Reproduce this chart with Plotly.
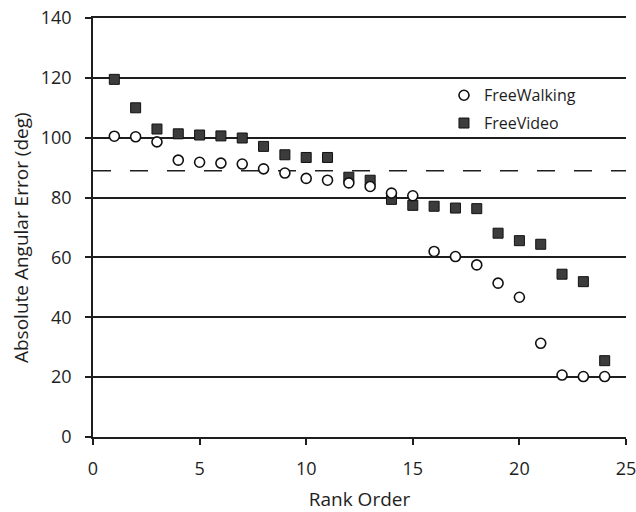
import plotly.graph_objects as go

rank = list(range(1, 25))
free_walking = [100.5, 100.3, 98.6, 92.5, 91.8, 91.5, 91.2, 89.6, 88.2, 86.4,
                85.8, 84.9, 83.7, 81.5, 80.6, 62.0, 60.3, 57.5, 51.4, 46.7,
                31.3, 20.7, 20.2, 20.2]
free_video = [119.5, 110.0, 102.9, 101.3, 100.9, 100.6, 99.9, 97.1, 94.3, 93.4,
              93.4, 86.8, 85.8, 79.4, 77.4, 77.1, 76.5, 76.3, 68.1, 65.6,
              64.4, 54.4, 51.9, 25.5]
reference_level = 89
x_ticks = [0, 5, 10, 15, 20, 25]
y_ticks = [0, 20, 40, 60, 80, 100, 120, 140]
x_title = "Rank Order"
y_title = "Absolute Angular Error (deg)"

FONT = "Open Sans"
INK = "#1e1e1e"

fig = go.Figure()
fig.add_trace(go.Scatter(
    x=rank, y=free_video, mode="markers", name="FreeVideo", legendrank=2,
    legendgroup="b",
    marker=dict(symbol="square", size=10, color="#3c3c3c",
                line=dict(color="#111111", width=1)),
))
fig.add_trace(go.Scatter(
    x=rank, y=free_walking, mode="markers", name="FreeWalking", legendrank=1,
    legendgroup="a",
    marker=dict(symbol="circle", size=10, color="white",
                line=dict(color="#111111", width=1.6)),
))

fig.add_shape(type="line", xref="paper", yref="y", x0=0, x1=1,
              y0=reference_level, y1=reference_level,
              line=dict(color=INK, width=1.5, dash="18px,19px"), layer="below")

# y-axis title as a rotated annotation so it can sit closer to the edge
fig.add_annotation(text=y_title, textangle=-90, xref="paper", yref="paper",
                   x=-0.135, y=0.475, xanchor="center", yanchor="middle",
                   showarrow=False, font=dict(size=19, family=FONT, color=INK))

fig.update_layout(
    width=636, height=512,
    margin=dict(l=93, r=10, t=18, b=75),
    paper_bgcolor="white", plot_bgcolor="white",
    font=dict(family=FONT, size=17, color=INK),
    showlegend=True,
    legend=dict(x=0.6585, y=0.856, xanchor="left", yanchor="top",
                bgcolor="rgba(0,0,0,0)", font=dict(size=16, family=FONT, color=INK),
                itemwidth=30, traceorder="grouped", tracegroupgap=4),
    xaxis=dict(range=[0, 25], tickvals=x_ticks, showgrid=False, zeroline=False,
               showline=True, linecolor=INK, linewidth=1.5, mirror=True,
               ticks="outside", ticklen=6, tickwidth=1.5, tickcolor=INK,
               ticklabelstandoff=9, tickfont=dict(size=18), automargin=False,
               ticklabeloverflow="allow",
               title=dict(text=x_title, font=dict(size=19), standoff=19)),
    yaxis=dict(range=[0, 140], tickvals=y_ticks, showgrid=True,
               gridcolor=INK, gridwidth=1.5, zeroline=False,
               showline=True, linecolor=INK, linewidth=1.5,
               ticks="outside", ticklen=6, tickwidth=1.5, tickcolor=INK,
               ticklabelstandoff=10, tickfont=dict(size=18), automargin=False,
               ticklabeloverflow="allow"),
)

fig.write_html(
    "out.html",
    config={"displayModeBar": False},
    post_script="document.body.style.margin='0';document.body.style.overflow='hidden';",
)
